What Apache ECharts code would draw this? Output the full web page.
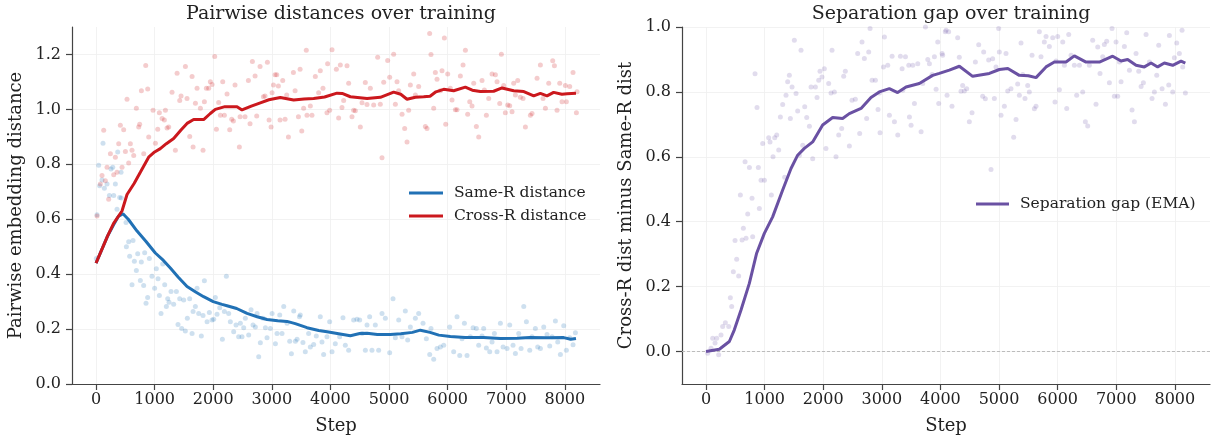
<!DOCTYPE html>
<html>
<head>
<meta charset="utf-8">
<script src="https://cdn.jsdelivr.net/npm/echarts@6/dist/echarts.min.js"></script>
<style>
  html, body { margin: 0; padding: 0; background: #fff; }
  #chart { width: 1214px; height: 441px; }
</style>
</head>
<body>
<div id="chart"></div>
<script>
// tick labels
var stepTicks = [0, 1000, 2000, 3000, 4000, 5000, 6000, 7000, 8000];
var distTicks = [0, 0.2, 0.4, 0.6, 0.8, 1.0, 1.2];
var gapTicks = [0, 0.2, 0.4, 0.6, 0.8, 1.0];

// EMA curves [step, value]
var sameEma = [[0,0.44],[100,0.49],[200,0.54],[300,0.58],[380,0.61],[460,0.62],[550,0.60],[700,0.557],[850,0.52],[1012,0.477],[1150,0.45],[1268,0.422],[1400,0.39],[1553,0.355],[1700,0.335],[1836,0.318],[2000,0.30],[2150,0.29],[2235,0.285],[2400,0.275],[2577,0.257],[2750,0.245],[2918,0.235],[3100,0.23],[3259,0.228],[3400,0.22],[3600,0.205],[3800,0.195],[3942,0.19],[4140,0.183],[4340,0.176],[4500,0.184],[4625,0.185],[4800,0.18],[5022,0.18],[5200,0.183],[5400,0.188],[5534,0.196],[5700,0.188],[5850,0.178],[6046,0.173],[6300,0.169],[6614,0.169],[6900,0.166],[7184,0.167],[7400,0.169],[7700,0.168],[7980,0.169],[8100,0.163],[8190,0.166]];
var crossEma = [[0,0.44],[100,0.49],[200,0.54],[300,0.585],[443,0.63],[529,0.69],[650,0.73],[756,0.771],[898,0.826],[1000,0.845],[1097,0.857],[1200,0.875],[1325,0.894],[1450,0.925],[1553,0.949],[1666,0.963],[1836,0.963],[1950,0.985],[2036,1.0],[2200,1.01],[2406,1.01],[2491,0.998],[2650,1.012],[2804,1.024],[2950,1.035],[3145,1.043],[3372,1.034],[3550,1.038],[3713,1.04],[3900,1.045],[4112,1.059],[4200,1.058],[4340,1.046],[4625,1.04],[4852,1.044],[5079,1.063],[5200,1.055],[5307,1.037],[5450,1.044],[5591,1.046],[5700,1.048],[5800,1.064],[5932,1.073],[6103,1.068],[6302,1.081],[6420,1.07],[6558,1.065],[6785,1.066],[6928,1.078],[7127,1.068],[7300,1.065],[7469,1.049],[7582,1.058],[7696,1.049],[7809,1.062],[7950,1.055],[8038,1.057],[8190,1.059]];
var gapEma = [[0,0],[227,0.007],[398,0.031],[483,0.067],[597,0.128],[739,0.21],[864,0.303],[995,0.364],[1137,0.415],[1308,0.498],[1450,0.564],[1564,0.605],[1678,0.626],[1820,0.646],[1990,0.698],[2161,0.721],[2331,0.718],[2445,0.733],[2645,0.749],[2815,0.783],[2957,0.8],[3128,0.81],[3270,0.798],[3413,0.815],[3640,0.826],[3867,0.851],[3981,0.857],[4152,0.867],[4323,0.879],[4550,0.848],[4835,0.857],[5005,0.869],[5150,0.872],[5346,0.851],[5500,0.85],[5631,0.844],[5802,0.877],[5944,0.892],[6143,0.892],[6285,0.911],[6485,0.892],[6712,0.892],[6939,0.91],[7082,0.895],[7195,0.9],[7338,0.882],[7480,0.877],[7594,0.889],[7707,0.877],[7821,0.889],[7963,0.882],[8106,0.895],[8179,0.889]];

// raw points [step, value]
var sameRaw = [[119,0.877],[45,0.797],[62,0.722],[102,0.743],[142,0.713],[188,0.728],[228,0.686],[256,0.783],[285,0.789],[302,0.686],[330,0.728],[370,0.845],[404,0.679],[358,0.636],[427,0.771],
[5,0.457],[17,0.616],[432,0.677],[512,0.588],[518,0.5],[557,0.518],[631,0.523],[574,0.465],[614,0.361],[654,0.447],[688,0.413],[711,0.474],[756,0.377],[773,0.444],[813,0.359],[830,0.478],[853,0.294],[881,0.315],[910,0.457],[955,0.392],[1000,0.349],[1029,0.42],[1058,0.383],[1081,0.322],[1109,0.257],[1138,0.437],[1172,0.361],[1200,0.282],[1223,0.31],[1246,0.298],[1280,0.337],[1325,0.29],[1371,0.337],[1399,0.217],[1428,0.31],[1462,0.202],[1496,0.306],[1524,0.193],[1558,0.239],[1598,0.31],[1639,0.184],[1656,0.264],[1695,0.282],[1724,0.349],[1752,0.257],[1797,0.175],[1826,0.249],[1849,0.376],[1895,0.227],[1934,0.26],[1980,0.233],[2008,0.236],[2036,0.315],[2065,0.254],[2111,0.278],[2156,0.163],[2190,0.264],[2224,0.392],[2264,0.257],[2292,0.227],[2349,0.19],[2389,0.215],[2434,0.172],[2463,0.221],[2491,0.172],[2520,0.205],[2548,0.239],[2605,0.178],[2645,0.27],[2679,0.215],[2719,0.208],[2748,0.257],[2776,0.099],[2804,0.15],[2850,0.239],[2890,0.205],[2918,0.168],[2975,0.202],[3004,0.257],[3061,0.147],[3089,0.184],[3135,0.251],[3174,0.184],[3203,0.282],[3260,0.221],[3305,0.156],[3334,0.11],[3374,0.266],[3402,0.156],[3431,0.163],[3471,0.245],
[3486,0.251],[3531,0.151],[3571,0.117],[3628,0.184],[3657,0.135],[3714,0.144],[3759,0.175],[3827,0.245],[3856,0.153],[3884,0.107],[3941,0.172],[3987,0.227],[4027,0.117],[4083,0.147],[4157,0.172],[4214,0.241],[4254,0.141],[4311,0.123],[4396,0.233],[4453,0.236],[4499,0.233],[4539,0.184],[4596,0.123],[4624,0.215],[4669,0.245],[4709,0.123],[4766,0.215],[4823,0.123],[4880,0.257],[4937,0.239],[5011,0.114],[5068,0.31],[5108,0.168],[5165,0.233],[5221,0.172],[5278,0.266],[5318,0.16],[5364,0.208],[5449,0.239],[5506,0.257],[5580,0.221],[5637,0.165],[5694,0.107],[5716,0.202],[5762,0.09],[5819,0.129],[5876,0.135],[5933,0.141],[6035,0.208],[6103,0.117],[6160,0.245],[6206,0.104],[6246,0.165],[6286,0.221],[6331,0.104],[6388,0.172],[6434,0.205],[6490,0.202],[6530,0.141],[6587,0.175],[6615,0.202],[6661,0.131],[6718,0.117],[6758,0.153],[6798,0.184],[6843,0.117],[6900,0.221],[6946,0.135],[7014,0.129],[7059,0.215],[7116,0.141],[7156,0.111],[7213,0.184],[7253,0.129],[7299,0.282],[7344,0.227],[7401,0.123],[7440,0.172],[7497,0.202],[7537,0.135],[7583,0.129],[7640,0.208],[7696,0.18],[7742,0.138],[7782,0.172],[7839,0.229],[7879,0.153],[7924,0.107],[7981,0.212],[8026,0.123],[8083,0.168],[8140,0.143],[8180,0.187]];

var crossRaw = [[17,0.612],[131,0.924],[74,0.728],[102,0.759],[159,0.74],[188,0.789],[245,0.838],[216,0.673],[302,0.762],[330,0.826],[358,0.771],[387,0.875],[415,0.942],[444,0.789],[472,0.926],[501,0.847],[529,1.037],[557,0.805],[586,0.875],[614,0.851],[643,0.832],[688,1.004],[728,0.936],[745,0.946],[774,1.068],[814,0.838],[848,1.16],[882,1.074],[899,0.899],[973,0.997],[1013,0.877],[1053,0.928],[1081,0.988],[1127,0.967],[1184,0.997],[1166,0.961],[1212,0.932],[1240,0.936],[1297,1.062],[1354,0.851],[1383,1.132],[1428,1.032],[1451,1.049],[1525,1.156],[1553,1.04],[1599,0.901],[1639,1.12],[1656,0.863],[1696,1.022],[1724,1.077],[1781,1.004],[1826,0.851],[1849,1.028],[1883,1.077],[1923,1.077],[1951,1.101],[1980,1.091],[2025,1.193],[2054,0.928],[2093,1.025],[2122,0.979],[2162,1.101],[2190,0.979],[2236,1.056],[2281,0.926],[2315,0.964],[2344,0.958],[2372,1.089],[2446,0.863],[2458,0.973],[2543,0.973],[2600,1.105],[2628,0.948],[2668,1.174],[2714,1.122],[2742,0.976],[2799,1.156],[2856,1.046],[2884,1.049],[2924,1.172],[2953,0.961],[2987,0.936],[3004,1.061],[3027,1.089],[3055,1.126],[3084,1.126],[3112,1.085],[3140,0.961],[3186,1.105],[3226,0.964],[3254,1.052],[3283,0.899],[3368,1.134],[3397,1.068],[3454,0.973],[3482,1.146],[3511,0.921],
[3588,1.215],[3543,1.004],[3600,0.979],[3657,1.012],[3685,0.979],[3742,1.12],[3799,1.061],[3827,1.141],[3873,1.077],[3941,0.988],[3952,1.166],[3987,0.997],[4027,1.217],[4101,1.146],[4140,0.969],[4169,1.162],[4197,1.007],[4226,1.032],[4283,1.159],[4311,1.095],[4368,0.973],[4396,0.997],[4425,0.995],[4510,0.936],[4539,1.024],[4595,1.098],[4624,1.018],[4681,1.077],[4738,1.016],[4806,1.19],[4851,1.019],[4880,0.824],[4909,1.099],[4977,1.178],[5011,1.117],[5079,1.201],[5108,1.019],[5136,1.101],[5165,1.068],[5222,0.982],[5267,0.93],[5307,0.881],[5335,0.997],[5364,1.089],[5421,1.129],[5449,1.052],[5506,1.083],[5620,0.938],[5648,0.93],[5693,1.276],[5716,1.2],[5762,1.004],[5790,1.134],[5819,1.11],[5876,1.068],[5904,1.141],[5944,1.26],[5967,0.946],[6001,1.129],[6046,1.077],[6075,1.034],[6132,0.999],[6160,0.999],[6217,1.122],[6263,1.162],[6303,1.215],[6342,0.982],[6377,1.028],[6416,1.012],[6445,1.095],[6490,0.938],[6530,0.899],[6587,1.105],[6627,1.071],[6661,0.979],[6701,1.04],[6758,1.129],[6815,1.126],[6843,1.101],[6889,1.021],[6917,1.201],[6957,1.087],[6985,0.988],[7025,1.016],[7059,1.013],[7099,0.991],[7127,1.095],[7156,1.052],[7196,1.105],[7241,1.044],[7287,1.04],[7327,0.936],[7412,0.979],[7440,0.985],[7526,1.113],[7583,1.162],[7628,1.04],[7668,1.004],[7725,1.095],[7793,1.177],[7822,1.159],[7867,0.997],[7913,1.095],[7952,1.028],[8009,1.087],[8026,1.028],[8083,1.083],[8140,1.134],[8197,0.988],[8208,1.064]];

var gapRaw = [[28,-0.005],[85,0.01],[114,0.041],[154,0.026],[182,0.041],[216,-0.01],[256,0.051],[284,0.077],[330,0.089],[387,0.077],[415,0.166],[438,0.139],[466,0.246],[495,0.342],[523,0.284],[557,0.233],[586,0.482],[615,0.344],[637,0.38],[666,0.585],[683,0.349],[711,0.424],[740,0.567],[785,0.472],[796,0.354],[836,0.856],[870,0.752],[893,0.567],[910,0.441],[939,0.528],[967,0.641],[996,0.528],[1069,0.659],[1092,0.646],[1115,0.482],[1143,0.6],[1172,0.659],[1206,0.667],[1240,0.621],[1269,0.723],[1308,0.761],[1342,0.537],[1365,0.79],[1393,0.831],[1422,0.851],[1439,0.718],[1468,0.815],[1507,0.959],[1536,0.795],[1564,0.741],[1593,0.605],[1621,0.928],[1650,0.636],[1684,0.754],[1718,0.721],[1764,0.694],[1792,0.815],[1820,0.594],[1866,0.815],[1894,0.783],[1923,0.836],[1945,0.864],[1979,0.846],[2019,0.871],[2047,0.626],[2093,0.826],[2133,0.797],[2150,0.928],[2190,0.8],[2218,0.6],[2264,0.667],[2315,0.687],[2349,0.848],[2377,0.864],[2446,0.633],[2491,0.774],[2548,0.777],[2588,0.918],[2622,0.672],[2662,0.954],[2702,0.903],[2741,0.718],[2776,0.923],[2799,0.995],[2833,0.836],[2890,0.836],[2935,0.746],[2958,0.797],[2969,0.674],[3027,0.877],[3044,0.969],[3101,0.882],[3129,0.728],[3175,0.91],[3215,0.708],[3272,0.667],[3317,0.91],[3346,0.871],[3357,0.805],[3403,0.908],[3460,0.882],[3471,0.723],[3499,0.697],[3528,0.882],[3556,0.764],[3613,0.887],[3670,0.677],[3698,0.826],[3744,1.0],[3784,0.9],[3812,0.887],[3858,0.854],[3897,0.908],[3926,0.808],[3954,0.954],[3971,0.764],[4028,0.918],[4096,0.99],[4113,0.79],
[4038,0.913],[4083,0.985],[4140,0.985],[4197,0.756],[4294,0.967],[4322,0.907],[4351,0.802],[4379,0.82],[4408,0.803],[4448,0.81],[4493,0.708],[4539,0.736],[4596,0.892],[4653,0.945],[4721,0.787],[4738,0.923],[4766,0.779],[4823,0.898],[4863,0.561],[4891,0.902],[4920,0.78],[4948,0.877],[4994,0.995],[5005,0.923],[5034,0.728],[5091,0.756],[5119,0.918],[5148,0.803],[5204,0.81],[5250,0.66],[5290,0.715],[5318,0.824],[5347,0.79],[5375,0.951],[5404,0.854],[5443,0.78],[5489,0.82],[5517,0.8],[5563,0.913],[5603,0.748],[5631,0.756],[5688,0.985],[5716,0.908],[5773,0.954],[5802,0.971],[5859,0.94],[5916,0.967],[5955,0.769],[5973,0.895],[6001,0.971],[6030,0.807],[6087,0.954],[6115,0.882],[6155,0.749],[6189,0.977],[6229,0.913],[6285,0.882],[6325,0.79],[6371,0.882],[6428,0.8],[6473,0.708],[6513,0.695],[6541,0.882],[6598,0.959],[6655,0.762],[6684,0.938],[6723,0.857],[6769,0.908],[6797,0.946],[6837,0.956],[6883,0.828],[6928,0.995],[6968,0.787],[6997,0.954],[7025,0.787],[7054,0.892],[7082,0.831],[7139,0.94],[7179,0.982],[7225,0.867],[7270,0.744],[7310,0.708],[7338,0.918],[7384,0.864],[7424,0.817],[7463,0.828],[7509,0.977],[7566,0.892],[7611,0.78],[7651,0.8],[7691,0.851],[7725,0.944],[7782,0.81],[7839,0.762],[7896,0.821],[7907,0.974],[7964,0.8],[7992,0.905],[8032,0.951],[8077,0.918],[8123,0.99],[8134,0.877],[8180,0.797]];

var BLUE = '#2171b5', RED = '#cb181d', PURPLE = '#6a51a3';
var FONT = 'DejaVu Serif';

function xAxis(gridIndex) {
  return {
    type: 'value', gridIndex: gridIndex, min: -410, max: 8600,
    name: 'Step', nameLocation: 'middle', nameGap: 33,
    nameTextStyle: { fontFamily: FONT, fontSize: 18, color: '#222' },
    axisLine: { onZero: false, lineStyle: { color: '#444', width: 1.2 } },
    axisTick: { customValues: stepTicks, length: 6, lineStyle: { color: '#444', width: 1.2 } },
    axisLabel: { customValues: stepTicks, margin: 8, fontFamily: FONT, fontSize: 16, color: '#222',
      formatter: function (v) { return String(v); } },
    splitLine: { show: true, lineStyle: { color: '#efefef', width: 0.8 } }
  };
}
function yAxis(gridIndex, min, max, ticks, name) {
  return {
    type: 'value', gridIndex: gridIndex, min: min, max: max,
    name: name, nameLocation: 'middle', nameGap: 47,
    nameTextStyle: { fontFamily: FONT, fontSize: 18, color: '#222' },
    axisLine: { show: true, onZero: false, lineStyle: { color: '#444', width: 1.2 } },
    axisTick: { show: true, customValues: ticks, length: 6, lineStyle: { color: '#444', width: 1.2 } },
    axisLabel: { customValues: ticks, margin: 11, fontFamily: FONT, fontSize: 16, color: '#222',
      formatter: function (v) { return v.toFixed(1); } },
    splitLine: { show: true, lineStyle: { color: '#efefef', width: 0.8 } }
  };
}
function legendText() {
  return { fontFamily: FONT, fontSize: 15.5, color: '#222', lineHeight: 16, padding: [0, 0, 0, 6] };
}

var zeroStyle = { color: '#b5b5b5', type: [3, 2], width: 0.9, opacity: 1 };

var chart = echarts.init(document.getElementById('chart'), null, { renderer: 'canvas' });
chart.setOption({
  animation: false,
  backgroundColor: '#fff',
  title: [
    { text: 'Pairwise distances over training', left: 336, top: 0, textAlign: 'center',
      textStyle: { fontFamily: FONT, fontSize: 19, fontWeight: 'normal', color: '#222' } },
    { text: 'Separation gap over training', left: 946, top: 0, textAlign: 'center',
      textStyle: { fontFamily: FONT, fontSize: 19, fontWeight: 'normal', color: '#222' } }
  ],
  grid: [
    { left: 72, top: 27, width: 528, height: 357 },
    { left: 682, top: 27, width: 528, height: 357 }
  ],
  xAxis: [xAxis(0), xAxis(1)],
  yAxis: [
    yAxis(0, 0, 1.3, distTicks, 'Pairwise embedding distance'),
    yAxis(1, -0.1, 1.0, gapTicks, 'Cross-R dist minus Same-R dist')
  ],
  legend: [
    { orient: 'vertical', left: 409, top: 185, padding: 0, itemWidth: 34, itemHeight: 3, itemGap: 7,
      data: [{ name: 'Same-R distance', icon: 'rect' }, { name: 'Cross-R distance', icon: 'rect' }],
      textStyle: legendText() },
    { orient: 'vertical', left: 976, top: 196, padding: 0, itemWidth: 33, itemHeight: 3,
      data: [{ name: 'Separation gap (EMA)', icon: 'rect' }],
      textStyle: legendText() }
  ],
  series: [
    { type: 'scatter', name: 'same raw', xAxisIndex: 0, yAxisIndex: 0, data: sameRaw,
      symbolSize: 5, itemStyle: { color: BLUE, opacity: 0.22 }, silent: true },
    { type: 'scatter', name: 'cross raw', xAxisIndex: 0, yAxisIndex: 0, data: crossRaw,
      symbolSize: 5, itemStyle: { color: RED, opacity: 0.22 }, silent: true },
    { type: 'line', name: 'Same-R distance', xAxisIndex: 0, yAxisIndex: 0, data: sameEma,
      showSymbol: false, lineStyle: { color: BLUE, width: 3 }, itemStyle: { color: BLUE } },
    { type: 'line', name: 'Cross-R distance', xAxisIndex: 0, yAxisIndex: 0, data: crossEma,
      showSymbol: false, lineStyle: { color: RED, width: 3 }, itemStyle: { color: RED } },
    { type: 'scatter', name: 'gap raw', xAxisIndex: 1, yAxisIndex: 1, data: gapRaw,
      symbolSize: 5, itemStyle: { color: PURPLE, opacity: 0.2 }, silent: true },
    { type: 'line', name: 'Separation gap (EMA)', xAxisIndex: 1, yAxisIndex: 1, data: gapEma,
      showSymbol: false, lineStyle: { color: PURPLE, width: 3 }, itemStyle: { color: PURPLE }, z: 3,
      markLine: { silent: true, symbol: 'none', label: { show: false }, z: 1,
        lineStyle: zeroStyle, emphasis: { disabled: true },
        data: [{ yAxis: 0, lineStyle: zeroStyle }] } }
  ]
});
</script>
</body>
</html>
